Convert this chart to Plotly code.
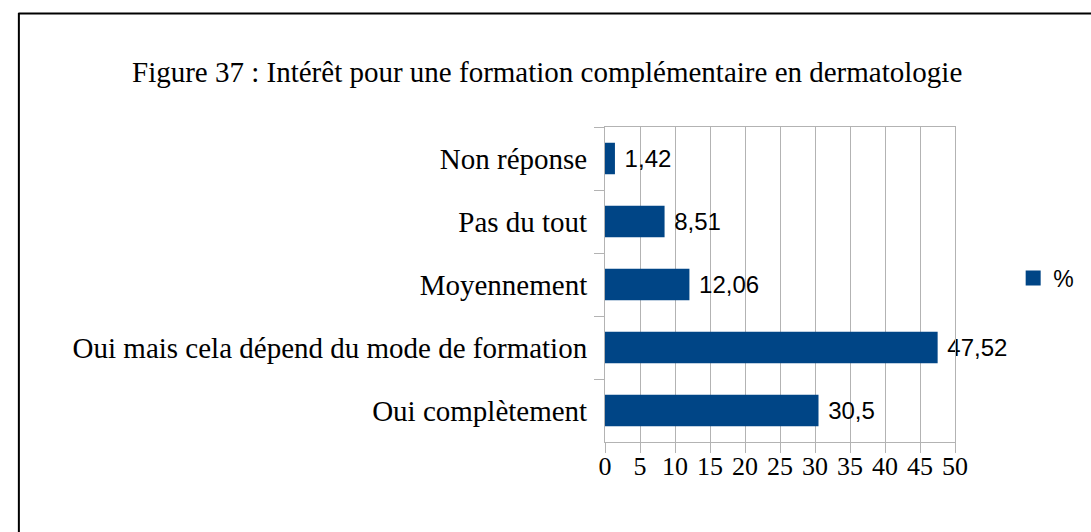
import plotly.graph_objects as go

# Survey answers and their share (%)
categories = [
    "Non réponse",
    "Pas du tout",
    "Moyennement",
    "Oui mais cela dépend du mode de formation",
    "Oui complètement",
]
values = [1.42, 8.51, 12.06, 47.52, 30.5]
x_ticks = [0, 5, 10, 15, 20, 25, 30, 35, 40, 45, 50]

W, H = 1091, 532
L, R, T, B = 605, 131, 127, 90
pw, ph = W - L - R, H - T - B


def px_x(x):
    return (x - L) / pw


def px_y(y):
    return (H - B - y) / ph


BAR_COLOR = "#004586"
SERIF = "Liberation Serif, Times New Roman, serif"
SANS = "Liberation Sans, Arial, sans-serif"

labels = [" " + f"{v:g}".replace(".", ",") for v in values]

fig = go.Figure()
fig.add_trace(
    go.Bar(
        x=values,
        y=categories,
        orientation="h",
        name="%",
        marker=dict(color=BAR_COLOR, line=dict(width=0)),
        width=0.5,
        text=labels,
        textposition="outside",
        textfont=dict(family=SANS, size=24, color="#000000"),
        cliponaxis=False,
        showlegend=False,
    )
)
# Legend entry with a larger square swatch
fig.add_trace(
    go.Scatter(
        x=[None],
        y=[None],
        mode="markers",
        name="%",
        marker=dict(symbol="square", size=15, color=BAR_COLOR),
        showlegend=True,
    )
)

fig.update_layout(
    width=W,
    height=H,
    margin=dict(l=L, r=R, t=T, b=B, pad=0),
    paper_bgcolor="white",
    plot_bgcolor="white",
    font=dict(family=SERIF, size=26, color="#000000"),
    xaxis=dict(
        range=[0, 50],
        tickvals=x_ticks,
        ticktext=[str(t) for t in x_ticks],
        showgrid=True,
        gridcolor="#b3b3b3",
        gridwidth=1,
        zeroline=False,
        showline=True,
        linecolor="#b3b3b3",
        linewidth=1,
        mirror=True,
        ticks="outside",
        ticklen=10,
        tickcolor="#b3b3b3",
        ticklabelstandoff=-9,
        tickfont=dict(family=SERIF, size=26, color="#000000"),
    ),
    yaxis=dict(
        autorange="reversed",
        showgrid=False,
        zeroline=False,
        showline=True,
        linecolor="#b3b3b3",
        linewidth=1,
        mirror=True,
        ticks="outside",
        tickson="boundaries",
        ticklen=10,
        tickcolor="#b3b3b3",
        ticklabelstandoff=11,
        tickfont=dict(family=SERIF, size=29, color="#000000"),
    ),
    legend=dict(
        x=px_x(1019),
        y=px_y(278),
        xanchor="left",
        yanchor="middle",
        font=dict(family=SANS, size=23, color="#000000"),
        bgcolor="rgba(0,0,0,0)",
        itemwidth=30,
    ),
    bargap=0.5,
)

# Chart title
fig.add_annotation(
    text="Figure 37 : Intérêt pour une formation complémentaire en dermatologie",
    xref="paper",
    yref="paper",
    x=px_x(546),
    y=px_y(72),
    xanchor="center",
    yanchor="middle",
    showarrow=False,
    font=dict(family=SERIF, size=29, color="#000000"),
)

# Frame around the chart (top and left edges)
fig.add_shape(
    type="line", xref="paper", yref="paper",
    x0=px_x(10), x1=px_x(1100), y0=px_y(13.5), y1=px_y(13.5),
    line=dict(color="#000000", width=2),
)
fig.add_shape(
    type="line", xref="paper", yref="paper",
    x0=px_x(10.5), x1=px_x(10.5), y0=px_y(13), y1=px_y(540),
    line=dict(color="#000000", width=2),
)

fig.write_html("out.html")
